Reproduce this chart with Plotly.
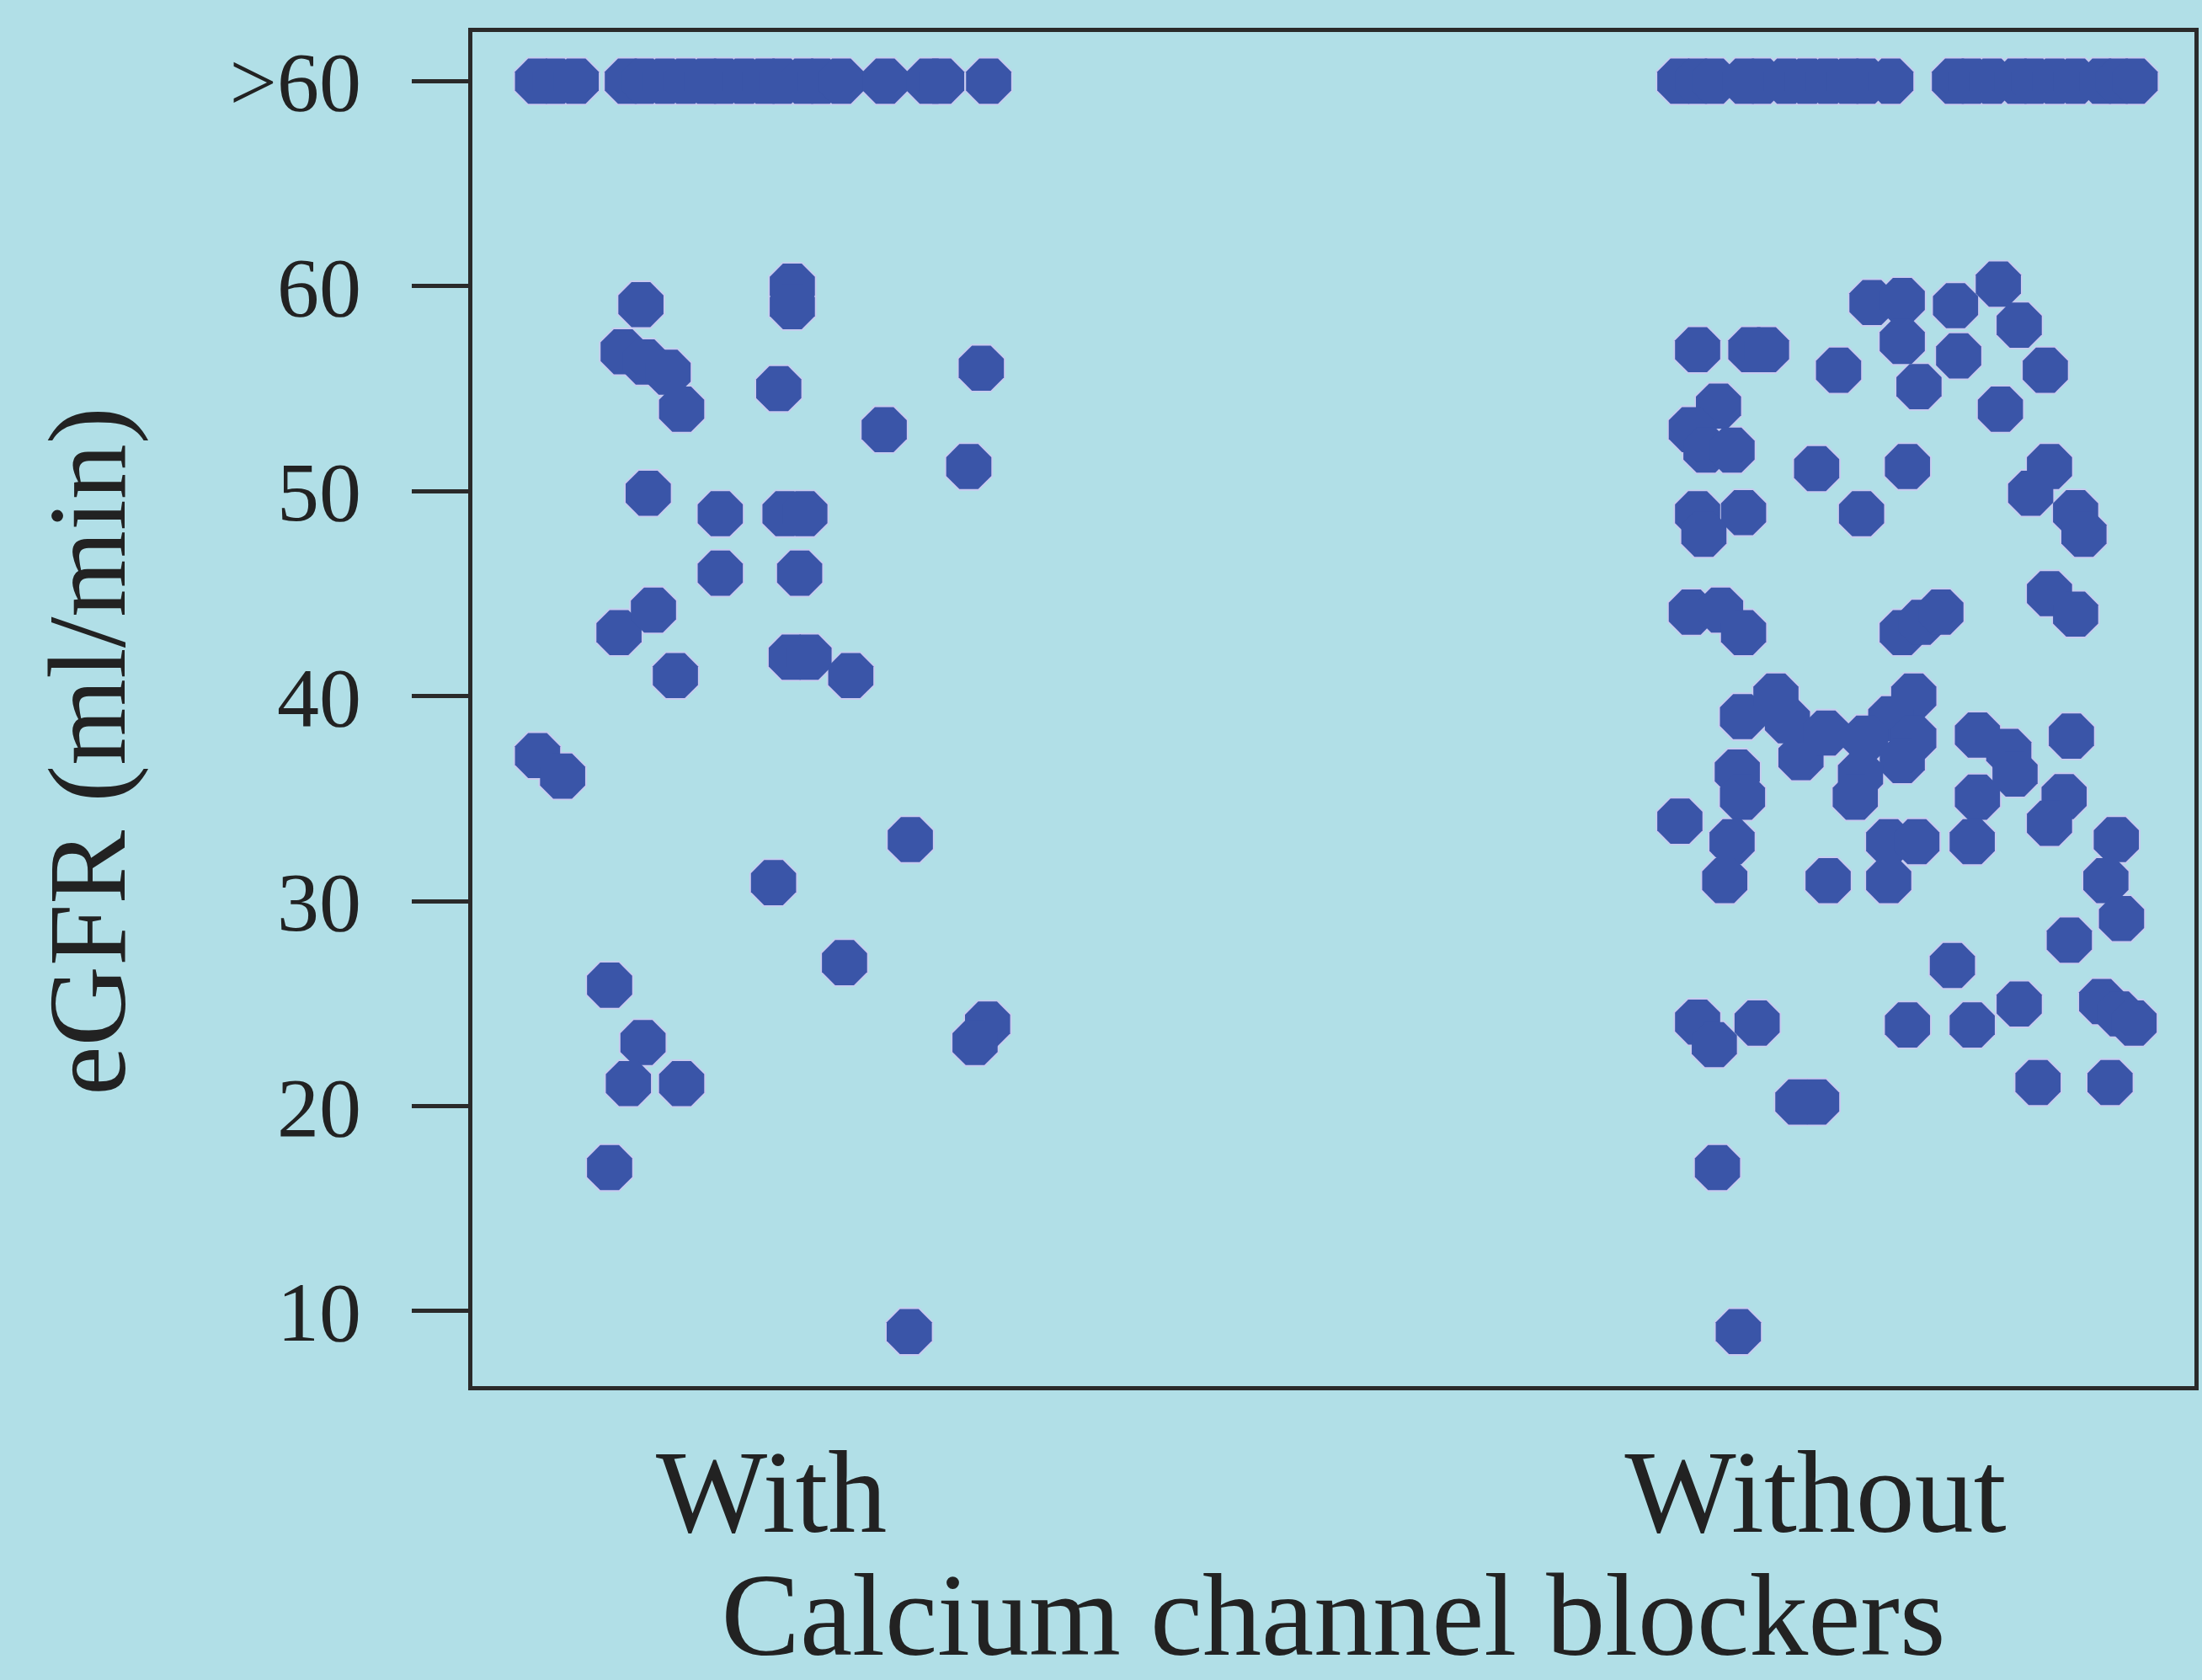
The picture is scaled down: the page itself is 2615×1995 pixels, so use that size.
import plotly.graph_objects as go

# ---------------- data ----------------
groups = ["With", "Without"]
group_pos = [1, 2]

y_tick_vals = [10, 20, 30, 40, 50, 60, 70]
y_tick_text = ["10", "20", "30", "40", "50", "60", ">60"]
above60_value = 70  # plotted position of the ">60" category

# "With" calcium channel blockers
with_top_jitter = [-0.224, -0.207, -0.187, -0.138, -0.122, -0.102, -0.082, -0.062, -0.046,
                   -0.026, -0.006, 0.010, 0.031, 0.047, 0.067, 0.109, 0.151, 0.163, 0.208]
with_jitter = [-0.125, -0.142, -0.121, -0.099, -0.086, 0.020, 0.020, 0.007, 0.108, 0.201,
               0.189, -0.118, -0.049, 0.013, 0.032, -0.049, 0.027, -0.146, -0.113, -0.092,
               0.019, 0.036, 0.076, -0.224, -0.200, 0.133, 0.002, 0.070, -0.155, -0.123,
               -0.137, -0.086, 0.207, 0.195, -0.155, 0.132]
with_egfr = [59.1, 56.8, 56.3, 55.8, 54.0, 60.0, 59.0, 55.0, 53.0, 56.0,
             51.2, 49.9, 48.9, 48.9, 48.9, 46.0, 46.0, 43.1, 44.2, 41.0,
             41.9, 41.9, 41.0, 37.1, 36.1, 33.0, 30.9, 27.0, 25.9, 23.1,
             21.1, 21.1, 24.0, 23.1, 17.0, 9.0]

# "Without" calcium channel blockers
without_top_jitter = [-0.130, -0.113, -0.097, -0.068, -0.052, -0.028, -0.008, 0.012, 0.032,
                      0.048, 0.072, 0.133, 0.149, 0.169, 0.193, 0.209, 0.229, 0.249, 0.274,
                      0.290, 0.306]
without_jitter = [-0.113, -0.062, -0.047, 0.022, 0.054, 0.083, 0.083, 0.099, 0.134, 0.175,
                  0.195, 0.137, 0.220, 0.177, -0.093, -0.119, -0.105, -0.080, 0.001, 0.088,
                  0.044, -0.113, -0.069, -0.107, 0.224, 0.206, 0.249, 0.257, -0.119, -0.091,
                  -0.069, 0.083, 0.101, 0.120, 0.224, 0.249, -0.070, -0.038, -0.027, -0.014,
                  0.010, 0.094, 0.072, 0.048, 0.094, 0.083, 0.043, 0.038, 0.155, 0.185,
                  0.191, 0.155, 0.245, -0.075, -0.070, -0.130, -0.080, -0.087, 0.012, 0.070,
                  0.097, 0.070, 0.150, 0.238, 0.224, 0.288, 0.278, 0.293, 0.243, 0.131,
                  0.195, 0.150, 0.088, 0.274, 0.291, 0.305, -0.113, -0.097, -0.056, -0.017,
                  0.001, 0.213, 0.282, -0.094, -0.074]
without_egfr = [56.9, 56.9, 56.9, 55.9, 59.2, 59.3, 57.3, 55.1, 59.05, 60.1,
                58.1, 56.6, 55.9, 54.0, 54.15, 53.0, 52.0, 52.0, 51.1, 51.2,
                48.9, 48.9, 48.95, 47.9, 51.2, 49.9, 48.95, 47.9, 44.1, 44.2,
                43.1, 43.1, 43.6, 44.1, 45.0, 44.0, 39.0, 40.0, 38.8, 37.0,
                38.2, 40.0, 38.9, 37.95, 37.95, 36.86, 36.17, 35.07, 38.1, 37.3,
                36.2, 35.07, 38.05, 36.3, 35.07, 33.9, 32.9, 31.0, 31.0, 32.9,
                32.9, 31.0, 32.9, 35.1, 33.8, 33.0, 31.0, 29.15, 28.1, 26.86,
                24.98, 23.96, 23.96, 25.1, 24.5, 24.05, 24.1, 23.0, 24.05, 20.2,
                20.2, 21.15, 21.15, 17.0, 9.0]

# ---------------- build ----------------
xs, ys = [], []
for pos, top_j, jit, vals in [
    (group_pos[0], with_top_jitter, with_jitter, with_egfr),
    (group_pos[1], without_top_jitter, without_jitter, without_egfr),
]:
    xs += [pos + j for j in top_j]
    ys += [above60_value] * len(top_j)
    xs += [pos + j for j in jit]
    ys += list(vals)

BG = "#b1dfe7"
DOT = "#3a55a8"
HALO = "#c9cbf0"
INK = "#222222"
FONT = "Liberation Serif"

fig = go.Figure()
# halo layer
fig.add_trace(go.Scatter(
    x=xs, y=ys, mode="markers", hoverinfo="skip", showlegend=False,
    marker=dict(symbol="octagon", size=62, color=HALO, line=dict(width=0)),
))
# fill layer
fig.add_trace(go.Scatter(
    x=xs, y=ys, mode="markers", showlegend=False,
    marker=dict(symbol="octagon", size=58, color=DOT, line=dict(width=0)),
))

fig.add_annotation(
    text="eGFR (ml/min)", textangle=-90,
    xref="paper", yref="paper", x=-0.2234, y=0.469,
    xanchor="center", yanchor="middle", showarrow=False,
    font=dict(size=132, family=FONT, color=INK),
)

fig.update_layout(
    width=2615, height=1995,
    paper_bgcolor=BG, plot_bgcolor=BG,
    margin=dict(l=561, r=4, t=38, b=349),
    font=dict(family=FONT, color=INK),
    xaxis=dict(
        range=[0.7136, 2.3628],
        tickvals=group_pos, ticktext=groups,
        tickfont=dict(size=140, family=FONT, color=INK),
        ticks="", showgrid=False, zeroline=False,
        showline=True, linecolor="#2a2a2a", linewidth=5, mirror=True,
        title=dict(text="Calcium channel blockers", font=dict(size=140, family=FONT, color=INK),
                   standoff=0),
    ),
    yaxis=dict(
        range=[6.34, 72.4],
        tickvals=y_tick_vals, ticktext=y_tick_text,
        tickfont=dict(size=100, family=FONT, color=INK),
        ticks="outside", ticklen=67, tickwidth=5, tickcolor="#2a2a2a",
        ticklabelstandoff=40,
        showgrid=False, zeroline=False,
        showline=True, linecolor="#2a2a2a", linewidth=5, mirror=True,
    ),
)

fig.write_html(
    "out.html",
    config={"displayModeBar": False},
    post_script="document.body.style.margin='0';document.body.style.padding='0';"
                "document.documentElement.style.background='" + BG + "';",
)
